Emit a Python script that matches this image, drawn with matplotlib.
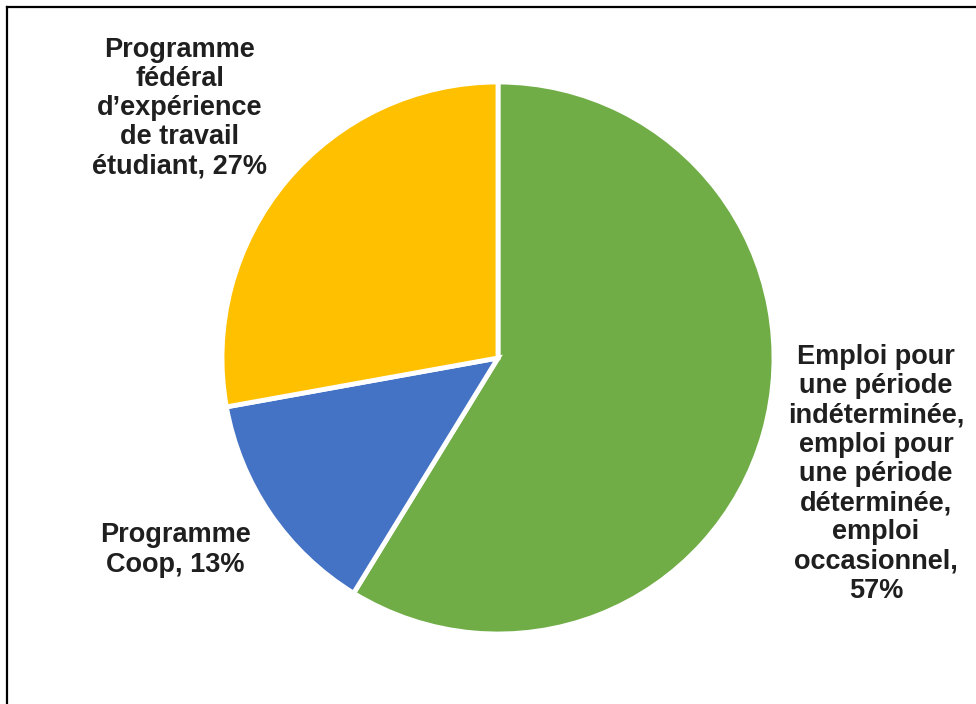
import matplotlib.pyplot as plt
from matplotlib.lines import Line2D

# Répartition des emplois étudiants (%)
categories = [
    "Emploi pour\nune période\nindéterminée,\nemploi pour\nune période\ndéterminée,\nemploi\noccasionnel,",
    "Programme\nCoop,",
    "Programme\nfédéral\nd\u2019expérience\nde travail\nétudiant,",
]
values = [57, 13, 27]
colors = ["#70AD47", "#4472C4", "#FFC000"]

# label anchors in pixel coords (x, y from top)
label_pos = [(876, 474), (175, 550), (180, 108)]
label_sep = ["\n", " ", " "]

W, H = 976, 704
fig = plt.figure(figsize=(W / 100, H / 100), dpi=100)
ax = fig.add_axes([0, 0, 1, 1])

ax.pie(values, colors=colors, startangle=90, counterclock=False,
       center=(498, H - 358), radius=276,
       wedgeprops=dict(edgecolor="white", linewidth=3.5))

for name, v, (x, y), sep in zip(categories, values, label_pos, label_sep):
    ax.text(x, H - y, f"{name}{sep}{v}%", ha="center", va="center",
            fontsize=19.5, fontweight="bold", family="Liberation Sans",
            color="#1f1f1f", linespacing=1.16)

ax.set_xlim(0, W)
ax.set_ylim(0, H)
ax.set_aspect("equal")
ax.axis("off")

# cadre (gauche + haut)
fig.add_artist(Line2D([6.5 / W, 6.5 / W], [0, 1 - 7 / H], transform=fig.transFigure,
                      color="black", lw=1.6))
fig.add_artist(Line2D([6.5 / W, 1], [1 - 7 / H, 1 - 7 / H], transform=fig.transFigure,
                      color="black", lw=1.6))

fig.savefig("out.png", dpi=100)
